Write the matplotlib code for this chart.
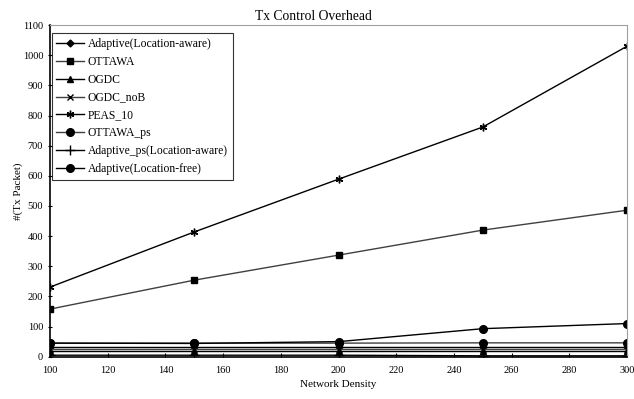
import matplotlib
matplotlib.use('Agg')
import matplotlib.pyplot as plt

plt.rcParams['font.family'] = ['Liberation Serif', 'DejaVu Serif']

density = [100, 150, 200, 250, 300]

adaptive_la = [32, 32, 32, 32, 32]
ottawa = [158, 254, 337, 420, 486]
ogdc = [19, 19, 19, 19, 19]
ogdc_nob = [24, 24, 24, 24, 24]
peas_10 = [231, 414, 589, 762, 1030]
ottawa_ps = [45, 45, 45, 46, 46]
adaptive_ps_la = [5, 5, 5, 3, 3]
adaptive_lf = [45, 44, 50, 93, 110]

series = [
    ("Adaptive(Location-aware)", adaptive_la, 'D', 'black', 3.5),
    ("OTTAWA", ottawa, 's', '#404040', 5),
    ("OGDC", ogdc, '^', 'black', 5),
    ("OGDC_noB", ogdc_nob, 'x', '#404040', 5),
    ("PEAS_10", peas_10, (6, 2, 0), 'black', 5.5),
    ("OTTAWA_ps", ottawa_ps, 'o', '#404040', 5.5),
    ("Adaptive_ps(Location-aware)", adaptive_ps_la, '+', 'black', 6.5),
    ("Adaptive(Location-free)", adaptive_lf, 'o', 'black', 5.5),
]

fig = plt.figure(figsize=(6.34, 3.99), dpi=100)
ax = fig.add_axes([0.079, 0.106, 0.910, 0.831])

for name, vals, mk, col, ms in series:
    ax.plot(density, vals, color=col, lw=1.0, marker=mk, markersize=ms,
            markerfacecolor='black', markeredgecolor='black', label=name)

ax.set_xlim(100, 300)
ax.set_ylim(0, 1100)
ax.set_xticks(range(100, 301, 20))
ax.set_yticks(range(0, 1101, 100))
ax.tick_params(axis='both', labelsize=7.5, length=3, direction='inout')
ax.tick_params(axis='x', direction='in', pad=7)
for s in ['top', 'right']:
    ax.spines[s].set_color('#a0a0a0')
ax.spines['left'].set_linewidth(1.2)
ax.spines['bottom'].set_linewidth(1.2)

ax.set_title("Tx Control Overhead", fontsize=9.8, pad=4, x=0.457)
ax.set_xlabel("Network Density", fontsize=8, labelpad=3)
ax.set_ylabel("#(Tx Packet)", fontsize=8, labelpad=0)

leg = ax.legend(loc='upper left', bbox_to_anchor=(0.003, 0.975), fontsize=8.4,
                frameon=True, fancybox=False, edgecolor='black',
                borderpad=0.4, labelspacing=0.5, handlelength=2.4,
                handletextpad=0.3, borderaxespad=0)
leg.get_frame().set_linewidth(0.8)

fig.savefig('out.png', dpi=100)
